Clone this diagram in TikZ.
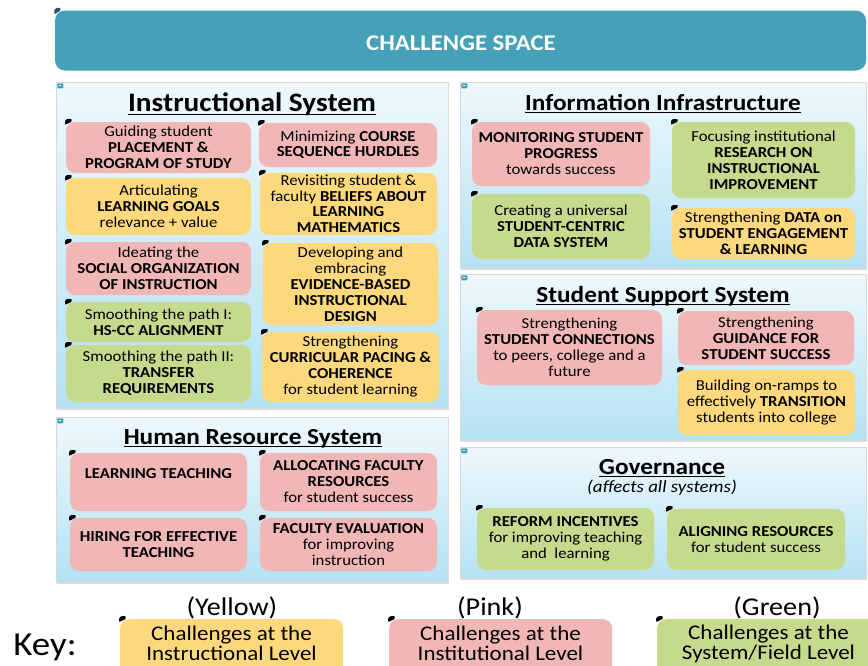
\documentclass[tikz,border=0pt]{standalone}
\usepackage{fontspec}
\setmainfont[FakeStretch=1.1]{Carlito}
\usetikzlibrary{calc,shadows}
\definecolor{pinkc}{RGB}{240,183,182}
\definecolor{yelc}{RGB}{253,216,125}
\definecolor{grnc}{RGB}{198,218,142}
\definecolor{tealc}{RGB}{68,161,183}
\definecolor{pantop}{RGB}{238,248,252}
\definecolor{panbot}{RGB}{180,226,243}
\newcommand\bmk[1]{\fill[black,rounded corners=0.7pt] ($(#1.north west)+(-0.8pt,-3pt)$) -- ++(0pt,4pt) -- ++(2pt,1.8pt) -- ++(4.5pt,0pt) -- ++(0pt,-2.8pt) -- cycle;}
\newcommand\pmk[1]{\fill[tealc,rounded corners=0.6pt] ($(#1.north west)+(1.5pt,-1.5pt)$) rectangle ++(6pt,-5pt);
  \fill[white] ($(#1.north west)+(3.3pt,-4.2pt)$) rectangle ++(2.4pt,0.8pt);}
\newcommand\uln[1]{\draw[line width=1.3pt] ($(#1.base west)+(0pt,-2.8pt)$) -- ($(#1.base east)+(0pt,-2.8pt)$);}
\tikzset{
  cbox/.style={rounded corners=9pt, inner sep=0pt, align=center,
    font=\fontsize{15.2}{16}\selectfont, text=black},
  pbox/.style={cbox, fill=pinkc},
  ybox/.style={cbox, fill=yelc},
  gbox/.style={cbox, fill=grnc},
  panel/.style={top color=pantop, bottom color=panbot, draw=gray!30, line width=0.5pt,
    inner sep=0pt, drop shadow={shadow xshift=1.2pt, shadow yshift=-2pt, fill=gray!55}},
  ttl/.style={inner sep=0pt, anchor=base, font=\fontsize{23}{25}\selectfont\bfseries},
  keylbl/.style={inner sep=0pt, anchor=base, font=\fontsize{25.6}{27}\selectfont},
  keytxt/.style={inner sep=0pt, align=center, font=\fontsize{20.9}{20}\selectfont},
  kbox/.style={rounded corners=9pt, inner sep=0pt, anchor=north west, minimum width=223pt, minimum height=60pt},
}
\begin{document}
\begin{tikzpicture}[x=1pt,y=-1pt]
\useasboundingbox (0,0) rectangle (868,665);
% banner
\node[fill=tealc, rounded corners=10pt, inner sep=0pt, minimum width=811pt, minimum height=60pt] (ban) at (460.5,40.5) {};
\node[inner sep=0pt, anchor=base, text=white, font=\fontsize{22.5}{24}\selectfont\bfseries] (bant) at (461,50) {CHALLENGE SPACE};
\fill[tealc!55!black, rounded corners=0.8pt] ($(ban.north west)+(-0.5pt,-4pt)$) -- ++(0pt,4.5pt) -- ++(2.5pt,2pt) -- ++(3.5pt,0pt) -- ++(0pt,-3pt) -- cycle;

% panels
\node[panel, minimum width=392pt, minimum height=326pt] (pI) at (252,245) {};
\node[panel, minimum width=406pt, minimum height=186pt] (pF) at (663,175) {};
\node[panel, minimum width=406pt, minimum height=166pt] (pS) at (663,357) {};
\node[panel, minimum width=392pt, minimum height=165pt] (pH) at (252,499.5) {};
\node[panel, minimum width=406pt, minimum height=131pt] (pG) at (663,512.5) {};
\pmk{pI}\pmk{pF}\pmk{pS}\pmk{pH}\pmk{pG}

% titles
\node[ttl, font=\fontsize{26.7}{28}\selectfont\bfseries] (tI) at (252,111.5) {Instructional System};
\node[ttl] (tF) at (663,110) {Information Infrastructure};
\node[ttl] (tS) at (663,302) {Student Support System};
\node[ttl] (tH) at (253,444) {Human Resource System};
\node[ttl] (tG) at (662,474) {Governance};
\uln{tI}\uln{tF}\uln{tS}\uln{tH}\uln{tG}
\node[inner sep=0pt, anchor=base, font=\fontsize{17.2}{18}\selectfont\itshape] (tGs) at (662,492) {(affects all systems)};

% Instructional system
\node[pbox, minimum width=185pt, minimum height=51pt] (b1) at (158.5,147.5) {Guiding student\\\textbf{PLACEMENT \&}\\\textbf{PROGRAM OF STUDY}};
\node[pbox, minimum width=178pt, minimum height=44pt, font=\fontsize{15.2}{14.8}\selectfont] (b2) at (348,145) {Minimizing \textbf{COURSE}\\\textbf{SEQUENCE HURDLES}};
\node[ybox, minimum width=185pt, minimum height=57pt] (b3) at (158.5,206.5) {Articulating\\\textbf{LEARNING GOALS}\\relevance + value};
\node[ybox, minimum width=177pt, minimum height=62pt, font=\fontsize{15.2}{15.5}\selectfont] (b4) at (348.5,204) {Revisiting student \&\\faculty \textbf{BELIEFS ABOUT}\\\textbf{LEARNING}\\\textbf{MATHEMATICS}};
\node[pbox, minimum width=185pt, minimum height=53pt] (b5) at (158.5,268.5) {Ideating the\\\textbf{SOCIAL ORGANIZATION}\\\textbf{OF INSTRUCTION}};
\node[ybox, minimum width=175pt, minimum height=82pt] (b6) at (350.5,284) {Developing and\\embracing\\\textbf{EVIDENCE-BASED}\\\textbf{INSTRUCTIONAL}\\\textbf{DESIGN}};
\node[gbox, minimum width=185pt, minimum height=40pt] (b7) at (158.5,322) {Smoothing the path I:\\\textbf{HS-CC ALIGNMENT}};
\node[gbox, minimum width=185pt, minimum height=57pt] (b8) at (158.5,373.5) {Smoothing the path II:\\\textbf{TRANSFER}\\\textbf{REQUIREMENTS}};
\node[ybox, minimum width=177pt, minimum height=70pt] (b9) at (350.5,367) {Strengthening\\\textbf{CURRICULAR PACING \&}\\\textbf{COHERENCE}\\for student learning};

% Information infrastructure
\node[pbox, minimum width=178pt, minimum height=64pt] (i1) at (561,154) {\textbf{MONITORING STUDENT}\\\textbf{PROGRESS}\\towards success};
\node[gbox, minimum width=183pt, minimum height=76pt] (i2) at (763.5,160) {Focusing institutional\\\textbf{RESEARCH ON}\\\textbf{INSTRUCTIONAL}\\\textbf{IMPROVEMENT}};
\node[gbox, minimum width=178pt, minimum height=65pt] (i3) at (561,226.5) {Creating a universal\\\textbf{STUDENT-CENTRIC}\\\textbf{DATA SYSTEM}};
\node[ybox, minimum width=183pt, minimum height=51pt] (i4) at (763.5,233.5) {Strengthening \textbf{DATA on}\\\textbf{STUDENT ENGAGEMENT}\\\textbf{\& LEARNING}};

% Student support
\node[pbox, minimum width=185pt, minimum height=75pt] (s1) at (569.5,347.5) {Strengthening\\\textbf{STUDENT CONNECTIONS}\\to peers, college and a\\future};
\node[pbox, minimum width=176pt, minimum height=54pt] (s2) at (766,338) {Strengthening\\\textbf{GUIDANCE FOR}\\\textbf{STUDENT SUCCESS}};
\node[ybox, minimum width=177pt, minimum height=65pt] (s3) at (766.5,402.5) {Building on-ramps to\\effectively \textbf{TRANSITION}\\students into college};

% Human resource
\node[pbox, minimum width=177pt, minimum height=58pt] (h1) at (158.5,482) {\textbf{LEARNING TEACHING}\\\mbox{}};
\node[pbox, minimum width=177pt, minimum height=58pt] (h2) at (348.5,482) {\textbf{ALLOCATING FACULTY}\\\textbf{RESOURCES}\\for student success};
\node[pbox, minimum width=177pt, minimum height=53pt] (h3) at (158.5,544.5) {\textbf{HIRING FOR EFFECTIVE}\\\textbf{TEACHING}};
\node[pbox, minimum width=177pt, minimum height=53pt] (h4) at (348.5,544.5) {\textbf{FACULTY EVALUATION}\\for improving\\instruction};

% Governance
\node[gbox, minimum width=177pt, minimum height=62pt] (g1) at (565.5,539) {\textbf{REFORM INCENTIVES}\\for improving teaching\\and\ \ learning};
\node[gbox, minimum width=178pt, minimum height=61pt] (g2) at (756,539.5) {\textbf{ALIGNING RESOURCES}\\for student success};

\foreach \n in {b1,b2,b3,b4,b5,b6,b7,b8,b9,i1,i2,i3,i4,s1,s2,s3,h1,h2,h3,h4,g1,g2} {\bmk{\n}}

% Key
\node[inner sep=0pt, anchor=base, font=\fontsize{33.5}{35}\selectfont] (key) at (45,655) {Key:};
\node[keylbl] (kyl) at (232,615) {(Yellow)};
\node[keylbl] (kpl) at (490,615) {(Pink)};
\node[keylbl] (kgl) at (777,615) {(Green)};
\node[kbox, fill=yelc] (ky) at (120,619) {};
\node[kbox, fill=pinkc] (kp) at (389,619) {};
\node[kbox, fill=grnc] (kg) at (657,619) {};
\node[keytxt] (kyt) at (231.5,643.5) {Challenges at the\\Instructional Level};
\node[keytxt] (kpt) at (500.5,643.5) {Challenges at the\\Institutional Level};
\node[keytxt] (kgt) at (768.5,643.5) {Challenges at the\\System/Field Level};
\bmk{ky}\bmk{kp}\bmk{kg}
\end{tikzpicture}
\end{document}
